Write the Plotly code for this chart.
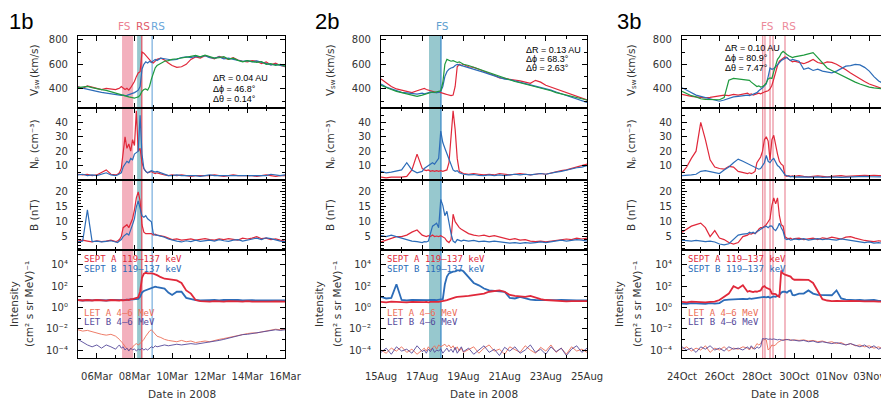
import pandas as pd
import plotly.graph_objects as go

# ---------------- DATA ----------------
# Column 1 (March 2008), time = day of month
T1 = [5.0,5.25,5.5,5.75,6.0,6.25,6.5,6.75,7.0,
      7.1,7.2,7.3,7.4,7.5,7.6,7.7,7.8,7.9,8.0,8.1,8.2,8.3,8.4,8.5,8.6,8.7,8.8,8.9,9.0,9.1,9.2,
      9.4,9.6,9.8,
      10.0,10.25,10.5,10.75,11.0,11.25,11.5,11.75,12.0,12.25,12.5,12.75,13.0,13.25,13.5,13.75,14.0,14.25,14.5,14.75,15.0,15.25,15.5,15.75,16.0]
V1_A = [420,405,425,415,400,395,405,400,395,
        400,405,420,410,395,405,390,410,430,460,500,530,540,700,690,670,650,640,620,610,625,640,
        650,635,610,
        590,575,580,600,640,660,650,670,660,645,665,650,640,655,635,625,620,630,625,605,620,595,610,590,580]
V1_B = [415,405,395,390,380,372,365,360,355,
        352,350,348,350,345,348,352,360,365,370,380,390,420,560,600,620,610,625,615,630,640,630,
        650,645,640,
        635,640,655,660,655,665,660,670,655,650,660,645,650,640,630,625,630,620,628,615,605,595,600,590,585]
V1_E = [410,412,420,410,400,395,388,378,370,
        365,360,355,350,345,340,335,330,328,325,330,335,350,380,395,400,390,420,480,520,570,590,
        610,625,630,
        640,645,650,660,665,672,660,675,665,650,655,662,640,650,632,620,630,625,615,622,600,605,592,600,585]
N1_A = [4,3.5,4,3,3.5,5,7,4,3.5,
        4,5,8,20,30,22,25,20,28,24,48,20,22,12,8,6,5,5.5,6,5,4.5,5,
        4,3.5,3,
        3.5,3,3.5,3,2.5,3,3,2.5,3,3.5,3,2.5,3,3.5,3,3,3.5,3,2.5,3,3.5,3,2.5,3,3]
N1_B = [3.5,4,3,3.5,3,4,5,3.5,3,
        3.5,4,5,9,11,13,12,15,14,18,19,20,45,18,8,6,5,6,6.5,6,5.5,6,
        5,3.5,3,
        3,3.5,3,3,3.5,3,2.5,3,3.5,3,3,3.5,3,3,3.5,3,3,3.5,3,3.5,3,4,3.5,3,3.5]
B1_A = [3.5,3.8,3.5,3.2,3.6,3.3,3.5,3.8,3.3,
        3.5,4,5,8,8.5,9,8,9.5,11,14,18,20,17,9,6.5,6,6,5.8,6,5.5,5.8,5.5,
        5.3,5,4.5,
        4,4.2,3.8,4,4.2,3.8,4,4.3,4,3.8,4.2,4,4.3,4,3.8,4.5,4.2,4.5,5,4.3,4.5,4,4.2,3.8,3.5]
B1_B = [3.2,3.5,14,3.3,3.5,3.2,3.4,3.6,3.2,
        3,3.5,4,5,5.5,6,5.5,7,9,11,15,17,14,12,11.5,12,11,10.5,10,6,5.5,5.5,
        5.2,4.8,4.2,
        3.8,3.5,3.2,3.6,3.3,3.8,3.4,3.6,3.8,3.5,4,3.6,3.4,3.8,4,3.5,3.8,4.2,4.5,4,4.6,4.3,3.8,3.5,3.3]
SA1 = [5,4.5,5,4.5,5,4.8,4.3,5,4.6,
       5,4.5,5,4.6,5,5.5,5,6,6,7,8,9,30,600,1500,1800,1600,1700,1600,1500,1300,1100,
       700,500,450,
       400,350,200,40,20,5,4,3.5,3.5,4,3.8,3.5,4,3.6,3.8,3.5,4,3.6,3.5,3.8,3.6,3.5,3.8,3.5,3.6]
SB1 = [5,4.5,5,4.6,5.2,4.8,4.5,5,4.7,
       5,4.6,5,4.8,5,5.2,5,5.5,5.8,6,6,6.5,10,25,35,40,50,60,70,80,90,80,
       70,60,25,
       15,30,30,8,6,5,4.5,5,4.8,5,4.6,5,5.2,4.8,5,4.5,5,4.8,4.6,5,4.7,4.5,4.8,4.5,4.6]
LA1 = [8e-3,6e-3,7e-3,5e-3,4e-3,3e-3,2.5e-3,3e-3,2e-3,
       1.5e-3,1e-3,6e-4,4e-4,2e-4,1.5e-4,1e-4,1.2e-4,2e-4,3e-4,4e-4,3e-4,4e-4,6e-4,1e-3,2e-3,4e-3,6e-3,8e-3,5e-3,3e-3,2e-3,
       1.5e-3,1e-3,8e-4,
       7e-4,6e-4,8e-4,6e-4,7e-4,5e-4,6e-4,7e-4,6e-4,8e-4,1e-3,1.2e-3,1.5e-3,2e-3,2.5e-3,3e-3,3.5e-3,4e-3,4e-3,5e-3,6e-3,7e-3,9e-3,8e-3,9e-3]
LB1 = [1e-3,5e-4,3e-4,2e-4,3e-4,1.5e-4,3e-4,2e-4,1.2e-4,
       2e-4,3e-4,1.5e-4,2e-4,1e-4,1.5e-4,8e-5,1.5e-4,1e-4,1.3e-4,8e-5,1.2e-4,1e-4,1.5e-4,1e-4,1.3e-4,1e-4,1.5e-4,2e-4,1.6e-4,2.5e-4,2e-4,
       2.5e-4,3e-4,2.5e-4,
       3e-4,3.5e-4,3e-4,3.5e-4,4e-4,3.5e-4,4e-4,5e-4,6e-4,7e-4,8e-4,1e-3,1.3e-3,1.8e-3,2.2e-3,2.8e-3,3e-3,3.5e-3,4e-3,4.5e-3,5.5e-3,6e-3,8e-3,7e-3,8e-3]

# Column 2 (August 2008), time = day of month
T2 = [15.0,15.25,15.5,15.75,16.0,16.25,16.5,16.75,17.0,
      17.1,17.2,17.3,17.4,17.5,17.6,17.7,17.8,17.9,18.0,18.1,18.2,18.3,18.4,18.5,18.6,18.7,18.8,18.9,19.0,
      19.25,19.5,19.75,20.0,20.25,20.5,20.75,21.0,21.25,21.5,21.75,22.0,22.25,22.5,22.75,23.0,23.25,23.5,23.75,24.0,24.25,24.5,24.75,25.0]
V2_A = [480,450,420,400,390,375,370,385,395,
        405,395,390,380,375,372,370,375,368,365,360,355,350,345,350,420,580,600,590,600,
        580,575,560,540,525,510,490,485,480,470,465,455,445,470,455,430,415,400,385,365,350,335,320,310]
V2_B = [440,415,400,385,372,368,362,358,365,
        360,365,370,375,372,368,370,372,380,420,500,540,560,570,575,590,600,595,590,585,
        575,565,550,535,520,505,495,480,475,465,450,440,430,420,410,400,390,375,360,345,330,315,300,290]
V2_E = [430,410,395,380,370,355,345,340,350,
        355,360,365,370,375,372,375,378,385,450,600,640,635,625,630,620,615,620,610,600,
        590,575,560,545,530,515,500,485,470,460,450,440,428,420,410,400,385,370,360,350,340,330,320,310]
N2_A = [2,1.5,2,1.8,2,2.5,7,18,8,
        7,6.5,7,6,6.5,6,6.5,6,6.5,6,6.5,7,12,28,48,35,15,6,5,4.5,
        4,4.5,4,3.5,4,3.5,4.5,4,3.5,4,4.5,4,3.5,4,4.5,4,5,5.5,6.5,7,8,8.5,9.5,11]
N2_B = [6,5,5.5,6,7,12,7,5,6,
        8,9,10,11,12,11,13,15,34,26,22,18,14,10,7,6,6.5,5,4.5,4,
        3.5,3.8,3.2,3,3.5,3,3.5,3,3.5,4,3.5,4,3.5,4,4.5,4,5,5.5,6,7,7.5,8.5,9,10]
B2_A = [3.2,3.8,4.5,5,5,5.5,6.5,7.2,5.5,
        5.2,5,5.3,5,5.5,5,5.2,5,5.3,5,4.5,3.5,3,4,12.5,10,9,8,7.5,7,
        6,5.5,5.2,5.5,5,5.3,4.8,4.5,4,4.3,3.8,4,3.5,3.3,3.5,3.2,3.5,3.8,4,4.2,4,4.5,4.2,4.5]
B2_B = [5.3,5,5.5,5,4.5,3.8,3.5,3.3,3,
        3.3,3.2,3.5,6,8.5,9,9.5,8,17.5,15.5,12,13.5,9,6,3.5,3,4,3.8,3.5,3.8,
        3.5,3.7,3.3,3.5,3.2,3.5,3.3,3,2.8,3,2.7,3,2.8,3,3.2,3,3.3,3.5,3.8,3.5,3.8,4,3.8,3.5]
SA2 = [3.3,3,3.5,3.2,3.3,3,3.4,3.1,3.3,
       3.2,3.4,3,3.3,3.5,3.2,3.4,3.3,3.5,3.8,4.5,5,6,7,8,9,10,10,11,11,
       12,14,16,20,30,35,40,30,15,12,11,10,12,8,6,5,4.5,4,4.2,3.8,4,4.2,3.8,4]
SB2 = [10,7,8,150,5,4.5,5,4.8,5,
       4.6,5,4.8,5.2,4.7,5,4.8,5.2,5,6,150,800,1600,2000,2300,2500,3000,3000,3200,2500,
       700,200,120,60,40,35,30,30,8,7,10,7,5.5,5,4.8,5,4.5,4.8,5,4.6,4.8,4.5,4.7,4.6]
LA2 = [1e-4,5e-5,1.5e-4,8e-5,2e-4,6e-5,1.2e-4,4e-5,1e-4,
       1.5e-4,8e-5,2e-4,1e-4,1.5e-4,2.5e-4,1.2e-4,3e-4,2e-4,2.5e-4,3.5e-4,2e-4,3e-4,1.5e-4,2.5e-4,1e-4,2e-4,8e-5,1.5e-4,6e-5,
       1.2e-4,2e-4,5e-5,1.5e-4,3e-4,8e-5,1.2e-4,4e-5,2e-4,1e-4,6e-5,2.5e-4,1e-4,5e-5,1.8e-4,8e-5,3e-4,6e-5,1.5e-4,4e-5,2e-4,8e-5,1.2e-4,6e-5]
LB2 = [6e-5,1.5e-4,4e-5,2e-4,8e-5,1.2e-4,5e-5,2.5e-4,7e-5,
       1e-4,5e-5,1.2e-4,7e-5,1.5e-4,6e-5,1e-4,8e-5,1.3e-4,5e-5,1e-4,1.5e-4,7e-5,1.2e-4,6e-5,1.8e-4,5e-5,1e-4,2e-4,7e-5,
       1.5e-4,4e-5,1e-4,2.5e-4,6e-5,1.2e-4,3e-5,1.8e-4,8e-5,2e-4,5e-5,1e-4,3e-4,6e-5,1.2e-4,4e-5,2e-4,7e-5,1.5e-4,3e-5,1.2e-4,2.5e-4,6e-5,1.5e-4]

# Column 3 (24 Oct - 4 Nov 2008), time = days after 24 Oct 00:00
T3 = [0.0,0.25,0.5,0.75,1.0,1.25,1.5,1.75,2.0,2.25,2.5,2.75,3.0,3.25,
      3.5,3.6,3.7,3.8,3.9,4.0,4.1,4.2,4.3,4.4,4.5,4.6,4.7,4.8,4.9,5.0,5.1,5.2,5.3,5.4,5.5,5.6,5.7,5.8,5.9,6.0,
      6.25,6.5,6.75,7.0,7.25,7.5,7.75,8.0,8.25,8.5,8.75,9.0,9.25,9.5,9.75,10.0,10.25,10.5,10.75,11.0]
V3_A = [355,345,340,335,330,328,332,340,345,350,345,355,350,360,
        365,355,360,350,355,360,365,360,370,375,380,385,400,430,480,540,590,625,640,650,660,655,640,630,620,625,
        615,605,620,640,615,605,620,615,600,580,555,530,505,485,460,440,425,410,400,395]
V3_B = [410,390,370,350,340,330,320,305,300,310,325,335,340,345,
        350,345,350,355,360,370,385,395,410,425,440,500,570,560,565,580,600,620,630,640,650,655,640,630,640,635,
        625,560,570,550,560,545,540,530,545,565,585,590,600,595,575,545,500,465,445,420]
V3_E = [380,360,345,335,320,315,313,310,312,330,470,485,480,478,
        475,470,455,445,430,420,425,415,420,430,450,480,490,485,540,600,640,660,690,705,690,680,670,660,655,660,
        665,675,685,695,655,615,570,550,530,512,490,470,455,440,425,415,408,405,400,398]
N3_A = [5,9,15,20,40,28,14,9,8,7.5,9.5,9,6,5,
        4.5,5,4.5,5,6,12,14,16,20,28,30,27,14,28,31,24,18,13,11,10,3,2.5,3,2.5,2.8,2.5,
        3,2.5,2.2,2.5,2.8,2.5,2.2,2.5,2.8,3,2.5,2.7,3,2.8,3.2,3,3.3,3,3.2,3]
N3_B = [3,3,3.5,4,6,6.5,6,5.5,4.5,7,9,12,14.5,13,
        11.5,10.5,10,9.5,9,8.5,7.5,8,10,12,17,13,12,14,15,12,10,9,7.5,5.5,3.5,3,2.5,2.2,2.5,2,
        2.2,2,1.8,2,2.2,1.8,2,2.2,2,1.8,2,2.2,2,2.2,2.5,2.3,2.2,2,2.3,2.2]
B3_A = [6.5,7.5,8.5,9,9.5,8,5,7,4.5,4,3,2.5,3,5,
        5.5,6,5.8,6.2,6,6.5,7.5,8,8,8.5,9,10,11,15.5,18,16,18,12,9,8.5,5,4.5,4.3,4.5,4,4.3,
        4.5,4,4.3,4.5,4,4.6,4.3,4.8,4.5,4.2,4.8,5,4.5,4,3.7,3.5,3.3,3.6,3.3,3.5]
B3_B = [3.8,3.6,3.5,3.7,3.4,3.3,3.5,3.2,2.5,2.2,2.6,4,5.5,5.8,
        6,6.5,6.2,6.5,6,6.8,7,7.5,8,8.2,8.5,8,8.6,8.5,7.5,7,8,9.5,8,6.8,4.3,4,4.2,3.8,4,4.2,
        4,4.3,3.8,4.1,4.3,4,4.2,4,3.8,4.2,4,3.8,3.5,3.3,3,3.2,2.8,3,2.7,3]
SA3 = [3.3,3,3.5,3.2,3.4,3,3.3,3.5,5,10,20,100,60,120,
       30,35,30,28,32,30,35,40,80,100,70,60,50,20,20,18,12,10,3000,1500,1200,1000,900,800,500,400,
       420,380,400,200,30,6,4.5,4,4.2,3.8,4,4.2,3.8,4,3.7,4,3.8,3.6,3.8,3.5]
SB3 = [2.3,2.2,2.5,2.3,2.4,2.2,2.5,2.3,2.6,5,5.5,6,5.8,6.5,
       6,7,6.5,7,6.8,7,7.5,8,9,10,9,10,8,10,11,10,12,15,25,30,30,25,35,40,15,14,
       20,20,40,20,15,14,15,14,40,7,5.5,5,4.8,5,4.5,4.8,5,4.2,4.5,4.3]
LA3 = [1.2e-4,2e-4,8e-5,1.5e-4,1e-4,2.5e-4,6e-5,1.5e-4,1e-4,2e-4,8e-5,1.5e-4,1.2e-4,2e-4,
       1.5e-4,1e-4,2e-4,1.2e-4,2e-4,4e-4,3e-4,4e-4,8e-4,1e-3,9e-4,1e-4,1.5e-4,3e-4,2.5e-4,3e-4,5e-4,7e-4,8e-4,9e-4,1e-3,9e-4,1e-3,9e-4,8e-4,9e-4,
       8e-4,9e-4,7e-4,8e-4,6e-4,7e-4,5e-4,6e-4,4e-4,5e-4,3e-4,4e-4,2.5e-4,3e-4,2e-4,2.5e-4,1.5e-4,2e-4,1.2e-4,1.5e-4]
LB3 = [2e-4,1e-4,1.5e-4,6e-5,2e-4,1.2e-4,2.5e-4,1e-4,1.5e-4,8e-5,2e-4,1.2e-4,1.5e-4,1e-4,
       2e-4,1.2e-4,2.5e-4,1.5e-4,1.2e-4,2e-4,1.5e-4,2e-4,1.2e-3,1.1e-3,1.2e-3,1e-3,1.1e-3,1e-3,1.1e-3,1e-3,9e-4,1e-3,9e-4,8e-4,9e-4,1e-3,9e-4,8e-4,9e-4,8e-4,
       7e-4,8e-4,6e-4,7e-4,5e-4,6e-4,5e-4,4e-4,5e-4,4e-4,3e-4,4e-4,3e-4,2e-4,3e-4,1.5e-4,2.5e-4,1.2e-4,2e-4,1.5e-4]

PANEL_LABELS = ["1b", "2b", "3b"]
DELTA_TEXT = [["ΔR = 0.04 AU", "Δϕ = 46.8°", "Δθ = 0.14°"],
              ["ΔR = 0.13 AU", "Δϕ = 68.3°", "Δθ = 2.63°"],
              ["ΔR = 0.10 AU", "Δϕ = 80.9°", "Δθ = 7.47°"]]
V_TITLE = ["V", "sw", "(km/s)"]
Y_TITLES = ["Nₚ (cm⁻³)", "B (nT)"]
I_TITLE = ["Intensity", "(cm² s sr MeV)⁻¹"]
LOG_TICKTEXT = ["10⁻⁴", "10⁻²", "10⁰", "10²", "10⁴"]
X_RANGES = [["2008-03-05", "2008-03-16"], ["2008-08-15", "2008-08-25"], ["2008-10-24", "2008-11-04"]]
X_TICK0 = ["2008-03-06", "2008-08-15", "2008-10-24"]
# event markers (same day units as the column's time arrays)
BANDS = [[(7.34, 7.93, "rgba(236,128,148,0.62)"), (8.14, 8.40, "rgba(96,170,180,0.65)")],
         [(17.33, 17.91, "rgba(96,170,180,0.65)")],
         []]
VLINES = [[(8.39, "#e05a6a"), (8.94, "#7fb2e0")],
          [(17.91, "#3f8cc8")],
          [(4.31, "#ec94a2"), (4.43, "#ec94a2"), (4.70, "#ec94a2"), (4.86, "#ec94a2"), (5.50, "#ec94a2")]]
EVENT_LABELS = [[(7.45, "FS", "#ec7f92"), (8.48, "RS", "#e05a6a"), (9.25, "RS", "#6aa6da")],
                [(17.98, "FS", "#5fa0d0")],
                [(4.59, "FS", "#ec8a9a"), (5.70, "RS", "#ec8a9a")]]

# ---------------- FIGURE ----------------
# Coordinates below are reference-image pixels; the page body has an 8px margin,
# so the figure is drawn 8px smaller and every position is shifted by 8px.
W, H = 889, 408
M = 8
FW, FH = W - M, H - M
def px(x): return (x - M) / FW
def py(y): return 1 - (y - M) / FH

COL_X = [(78, 285), (381, 587), (682, 888)]
ROW_Y = [(36, 108), (108, 180), (180, 250), (250, 358)]
BASES = [pd.Timestamp("2008-03-01"), pd.Timestamp("2008-08-01"), pd.Timestamp("2008-10-24")]
OFFS = [1, 1, 0]

def dates(c, days):
    return [(BASES[c] + pd.Timedelta(days=d - OFFS[c])).strftime("%Y-%m-%d %H:%M:%S") for d in days]

RED, BLUE, GREEN = "#e0283a", "#2c6cb8", "#1e9a3e"
LETA, LETB = "#ec6e58", "#55489a"

fig = go.Figure()

def ax(c, r):
    n = r * 3 + c + 1
    return ("x" if n == 1 else f"x{n}"), ("y" if n == 1 else f"y{n}")

def add(c, r, t, y, color, width):
    xa, ya = ax(c, r)
    fig.add_trace(go.Scatter(x=dates(c, t), y=y, mode="lines", xaxis=xa, yaxis=ya,
                             line=dict(color=color, width=width), showlegend=False,
                             hoverinfo="skip"))

cols = [
    (T1, [V1_A, V1_B, V1_E], [N1_A, N1_B], [B1_A, B1_B], [SA1, SB1, LA1, LB1]),
    (T2, [V2_A, V2_B, V2_E], [N2_A, N2_B], [B2_A, B2_B], [SA2, SB2, LA2, LB2]),
    (T3, [V3_A, V3_B, V3_E], [N3_A, N3_B], [B3_A, B3_B], [SA3, SB3, LA3, LB3]),
]
for c, (T, V, N, B, I) in enumerate(cols):
    add(c, 0, T, V[0], RED, 1.2)
    add(c, 0, T, V[1], BLUE, 1.2)
    add(c, 0, T, V[2], GREEN, 1.2)
    add(c, 1, T, N[0], RED, 1.2)
    add(c, 1, T, N[1], BLUE, 1.2)
    add(c, 2, T, B[0], RED, 1.2)
    add(c, 2, T, B[1], BLUE, 1.2)
    add(c, 3, T, I[2], LETA, 0.9)
    add(c, 3, T, I[3], LETB, 0.9)
    add(c, 3, T, I[1], BLUE, 1.8)
    add(c, 3, T, I[0], RED, 1.8)

TICKFONT = dict(family="DejaVu Sans", size=10, color="#333333")
DAY = 86400000
layout = dict(width=FW, height=FH, margin=dict(l=0, r=0, t=0, b=0, pad=0), autosize=False,
              template="none",
              paper_bgcolor="white", plot_bgcolor="white", showlegend=False)

Y_SPECS = [
    dict(range=[245, 830], tickvals=[400, 600, 800], minor=dict(dtick=100)),
    dict(range=[0, 50], tickvals=[10, 20, 30, 40], minor=dict(dtick=5)),
    dict(range=[0.5, 24], tickvals=[5, 10, 15, 20], minor=dict(dtick=1)),
    dict(type="log", range=[-4.75, 5.4], tickvals=[1e-4, 1e-2, 1, 1e2, 1e4],
         ticktext=LOG_TICKTEXT, minor=dict(tickvals=[1e-3, 1e-1, 10, 1e3, 1e5])),
]

for c in range(3):
    for r in range(4):
        n = r * 3 + c + 1
        xa, ya = ax(c, r)
        xk = "xaxis" if n == 1 else f"xaxis{n}"
        yk = "yaxis" if n == 1 else f"yaxis{n}"
        layout[xk] = dict(domain=[px(COL_X[c][0]), px(COL_X[c][1])], anchor=ya, type="date",
                          range=X_RANGES[c], tick0=X_TICK0[c], dtick=2 * DAY, tickformat="%d%b",
                          showline=True, linecolor="black", linewidth=1.2, mirror="ticks",
                          ticks="inside", ticklen=5, tickcolor="black", tickwidth=1,
                          showgrid=False, zeroline=False, showticklabels=(r == 3), automargin=False,
                          tickfont=TICKFONT, ticklabelstandoff=9,
                          minor=dict(ticks="inside", ticklen=2.5, tick0=X_TICK0[c], dtick=DAY,
                                     tickcolor="black", showgrid=False))
        spec = dict(Y_SPECS[r])
        minor = dict(ticks="inside", ticklen=2.5, tickcolor="black", showgrid=False)
        minor.update(spec.pop("minor"))
        ydict = dict(domain=[py(ROW_Y[r][1]), py(ROW_Y[r][0])], anchor=xa,
                     showline=True, linecolor="black", linewidth=1.2, mirror="ticks",
                     ticks="inside", ticklen=5, tickcolor="black", tickwidth=1,
                     showgrid=False, zeroline=False, tickfont=TICKFONT, ticklabelstandoff=7,
                     automargin=False, minor=minor)
        ydict.update(spec)
        layout[yk] = ydict

fig.update_layout(**layout)

shapes = []
annotations = []
ytop, ybot = py(ROW_Y[0][0]), py(ROW_Y[3][1])
for c in range(3):
    xa, _ = ax(c, 0)
    for (a, b, col) in BANDS[c]:
        shapes.append(dict(type="rect", xref=xa, yref="paper", x0=dates(c, [a])[0], x1=dates(c, [b])[0],
                           y0=ybot, y1=ytop, fillcolor=col, line=dict(width=0), layer="below"))
    for (a, col) in VLINES[c]:
        d = dates(c, [a])[0]
        shapes.append(dict(type="line", xref=xa, yref="paper", x0=d, x1=d, y0=ybot, y1=ytop,
                           line=dict(color=col, width=1.3), layer="below"))
    for (a, txt, col) in EVENT_LABELS[c]:
        annotations.append(dict(x=dates(c, [a])[0], xref=xa, y=py(26), yref="paper", text=txt,
                                showarrow=False, font=dict(family="DejaVu Sans", size=10.5, color=col),
                                xanchor="center", yanchor="middle"))

# panel labels (box top at the figure's top edge)
PL_X = [21, 327, 629]
for c in range(3):
    annotations.append(dict(x=px(PL_X[c]), y=1.0, xref="paper", yref="paper", text=PANEL_LABELS[c],
                            showarrow=False, font=dict(family="Liberation Sans", size=22, color="black"),
                            xanchor="center", yanchor="top", borderpad=0))

# delta annotations
D_POS = [(211, [78, 89, 99]), (524, [50, 59, 68]), (723, [47.5, 58, 68])]
for c in range(3):
    x0, ys = D_POS[c]
    for txt, yy in zip(DELTA_TEXT[c], ys):
        annotations.append(dict(x=px(x0), y=py(yy), xref="paper", yref="paper", text=txt, showarrow=False,
                                font=dict(family="Liberation Sans", size=9, color="black"),
                                xanchor="left", yanchor="middle"))

# y-axis titles
TITLE_FONT = dict(family="DejaVu Sans", size=10.5, color="#333333")
VT_X = [34, 330, 631]
INT_X = [(14, 29), (319, 337), (619, 637)]
for c in range(3):
    # V_sw title split into V, small "sw" subscript and (km/s), reading bottom-to-top
    yv = (ROW_Y[0][0] + ROW_Y[0][1]) / 2
    annotations.append(dict(x=px(VT_X[c]), y=py(yv + 26), xref="paper", yref="paper", text=V_TITLE[0],
                            textangle=-90, showarrow=False, font=TITLE_FONT, xanchor="center", yanchor="bottom"))
    annotations.append(dict(x=px(VT_X[c] + 3), y=py(yv + 19), xref="paper", yref="paper", text=V_TITLE[1],
                            textangle=-90, showarrow=False, font=dict(family="DejaVu Sans", size=7, color="#333333"),
                            xanchor="center", yanchor="bottom"))
    annotations.append(dict(x=px(VT_X[c]), y=py(yv + 8), xref="paper", yref="paper", text=V_TITLE[2],
                            textangle=-90, showarrow=False, font=TITLE_FONT, xanchor="center", yanchor="bottom"))
    for r, txt in enumerate(Y_TITLES, start=1):
        annotations.append(dict(x=px(VT_X[c]), y=py((ROW_Y[r][0] + ROW_Y[r][1]) / 2), xref="paper",
                                yref="paper", text=txt, textangle=-90, showarrow=False, font=TITLE_FONT,
                                xanchor="center", yanchor="middle"))
    ymid = py((ROW_Y[3][0] + ROW_Y[3][1]) / 2)
    for k in range(2):
        annotations.append(dict(x=px(INT_X[c][k]), y=ymid, xref="paper", yref="paper", text=I_TITLE[k],
                                textangle=-90, showarrow=False, font=TITLE_FONT,
                                xanchor="center", yanchor="middle"))
    # x title
    annotations.append(dict(x=px((COL_X[c][0] + COL_X[c][1]) / 2), y=py(394), xref="paper", yref="paper",
                            text="Date in 2008", showarrow=False, font=dict(family="DejaVu Sans", size=10.5, color="#333333"),
                            xanchor="center", yanchor="middle"))
    # intensity legend texts
    lx = COL_X[c][0] + 4
    for txt, yy, col in [("SEPT A 119–137 keV", 259, RED), ("SEPT B 119–137 keV", 269, BLUE),
                         ("LET A 4–6 MeV", 313, LETA), ("LET B 4–6 MeV", 322, LETB)]:
        annotations.append(dict(x=px(lx), y=py(yy), xref="paper", yref="paper", text=txt, showarrow=False,
                                font=dict(family="DejaVu Sans Mono", size=9, color=col),
                                xanchor="left", yanchor="middle"))

fig.update_layout(shapes=shapes, annotations=annotations)

for name, T, arrs in [("c1", T1, [V1_A, V1_B, V1_E, N1_A, N1_B, B1_A, B1_B, SA1, SB1, LA1, LB1]),
                      ("c2", T2, [V2_A, V2_B, V2_E, N2_A, N2_B, B2_A, B2_B, SA2, SB2, LA2, LB2]),
                      ("c3", T3, [V3_A, V3_B, V3_E, N3_A, N3_B, B3_A, B3_B, SA3, SB3, LA3, LB3])]:
    for i, a in enumerate(arrs):
        if len(a) != len(T):
            print("LENGTH MISMATCH", name, i, len(a), len(T))

fig.write_html("out.html")
